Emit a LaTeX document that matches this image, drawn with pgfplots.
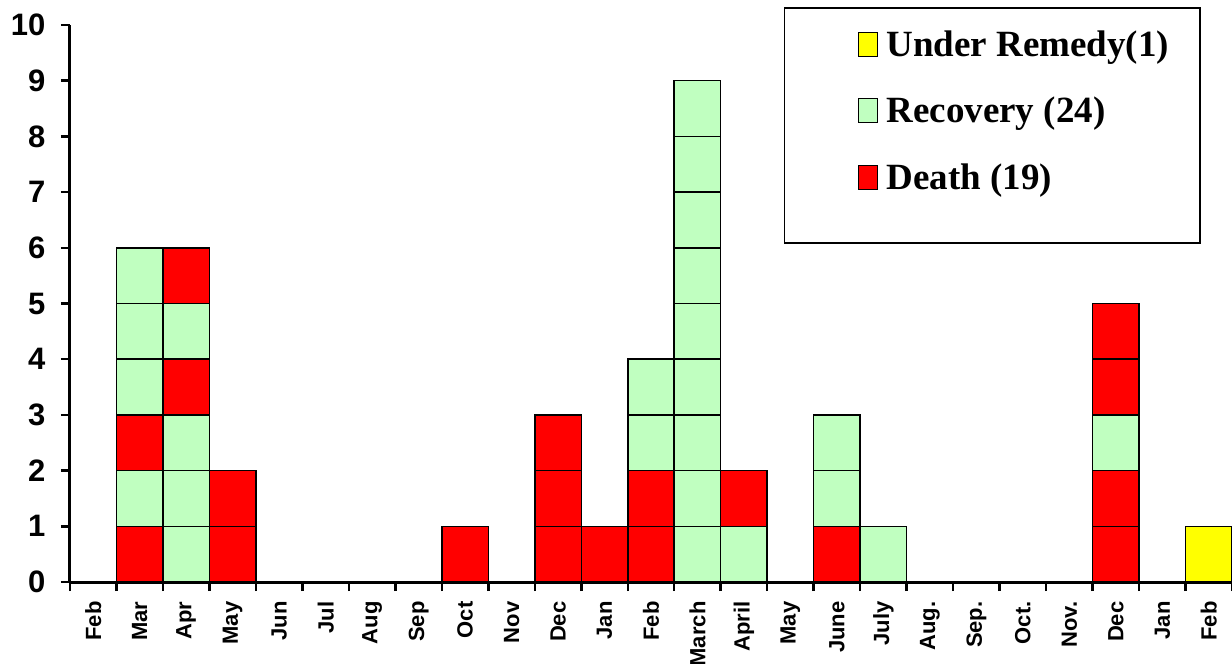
\documentclass[border=0pt]{standalone}
\usepackage{pgfplots}
\pgfplotsset{compat=1.18}
\usepackage{fontspec}
\setmainfont{Liberation Serif}
\newfontfamily\arialf{Liberation Sans}

\definecolor{deathred}{RGB}{255,0,0}
\definecolor{recgreen}{RGB}{192,255,192}
\definecolor{remyellow}{RGB}{255,255,0}

\pgfplotsset{
  sqlegend/.style={legend image code/.code={\path[draw=none,fill=none] (0pt,0pt) rectangle (26pt,0pt);\draw[##1,draw=black,line width=1pt] (0pt,-12pt) rectangle (19pt,12pt);}},
  blk/.style={fill=#1, draw=black, line width=1.5pt, forget plot},
}

\begin{document}
\begin{tikzpicture}
\begin{axis}[
  scale only axis, width=1162pt, height=557pt,
  xmin=-0.5, xmax=24.5, ymin=0, ymax=10,
  axis x line*=bottom, axis y line*=left,
  axis line style={line width=3pt},
  ybar, bar shift=0pt, bar width=1,
  clip=false,
  ytick={0,...,10},
  xtick={-0.5,0.5,...,24.5}, xticklabels={},
  extra x ticks={0,...,24},
  extra x tick labels={Feb,Mar,Apr,May,Jun,Jul,Aug,Sep,Oct,Nov,Dec,Jan,Feb,March,April,May,June,July,Aug.,Sep.,Oct.,Nov.,Dec,Jan,Feb},
  extra x tick style={tick style={draw=none}},
  tick align=outside,
  major tick length=9pt,
  tick style={black, line width=2.5pt},
  /pgf/number format/assume math mode=true,
  yticklabel style={font=\arialf\bfseries\fontsize{31}{31}\selectfont, xshift=-12pt},
  xticklabel style={font=\arialf\bfseries\fontsize{22}{22}\selectfont, yshift=-7pt, rotate=90, anchor=east},
  legend style={draw=none, fill=none, at={(axis description cs:0.678,0.993)}, anchor=north west,
    font=\bfseries\fontsize{37}{41}\selectfont, row sep=35pt, inner sep=0pt},
  legend cell align=left,
]
% one series per layer of unit blocks, tallest layer first
\addplot[blk=recgreen] coordinates {(13,9)};
\addplot[blk=recgreen] coordinates {(13,8)};
\addplot[blk=recgreen] coordinates {(13,7)};
\addplot[blk=recgreen] coordinates {(1,6) (13,6)};
\addplot[blk=deathred] coordinates {(2,6)};
\addplot[blk=recgreen] coordinates {(1,5) (2,5) (13,5)};
\addplot[blk=deathred] coordinates {(22,5)};
\addplot[blk=recgreen] coordinates {(1,4) (12,4) (13,4)};
\addplot[blk=deathred] coordinates {(2,4) (22,4)};
\addplot[blk=recgreen] coordinates {(2,3) (12,3) (13,3) (16,3) (22,3)};
\addplot[blk=deathred] coordinates {(1,3) (10,3)};
\addplot[blk=recgreen] coordinates {(1,2) (2,2) (13,2) (16,2)};
\addplot[blk=deathred] coordinates {(3,2) (10,2) (12,2) (14,2) (22,2)};
\addplot[blk=recgreen] coordinates {(2,1) (13,1) (14,1) (17,1)};
\addplot[blk=deathred] coordinates {(1,1) (3,1) (8,1) (10,1) (11,1) (12,1) (16,1) (22,1)};
\addplot[blk=remyellow] coordinates {(24,1)};

\addlegendimage{sqlegend, fill=remyellow}
\addlegendentry{Under Remedy(1)}
\addlegendimage{sqlegend, fill=recgreen}
\addlegendentry{Recovery (24)}
\addlegendimage{sqlegend, fill=deathred}
\addlegendentry{Death (19)}

\draw[line width=1.3pt] (axis description cs:0.615,0.6086) rectangle (axis description cs:0.9725,1.0305);
\end{axis}
\pgfresetboundingbox
\path[use as bounding box] ([shift={(-70pt,-81pt)}]current axis.south west) rectangle ([shift={(0pt,25pt)}]current axis.north east);
\end{tikzpicture}
\end{document}
